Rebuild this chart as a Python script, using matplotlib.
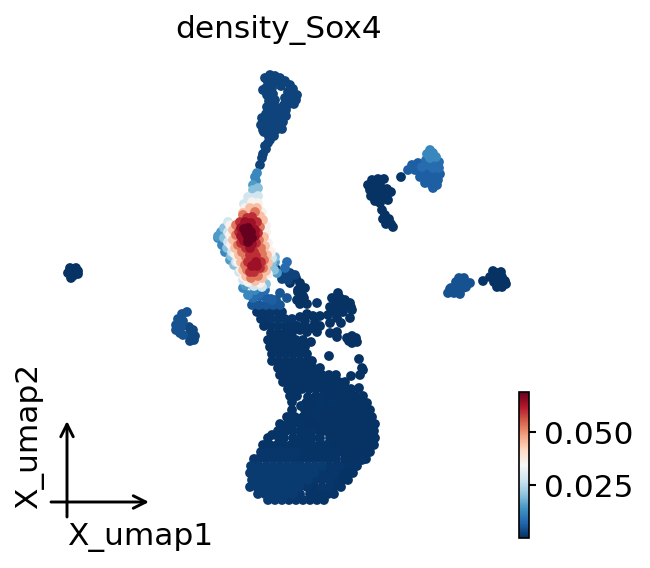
import matplotlib
matplotlib.use('Agg')
import matplotlib.pyplot as plt
import numpy as np

body_001 = [(34.3,48.0),(34.8,48.0),(34.2,47.3),(34.9,47.3),(35.3,47.3),(34.3,46.6),(35.0,46.6),(35.7,46.6),
    (34.5,45.9),(35.2,45.9),(35.9,45.9),(36.6,45.9),(34.2,45.2),(34.9,45.2),(35.6,45.2),(36.3,45.2),(37.0,45.2),
    (33.3,44.5),(34.0,44.5),(34.7,44.5),(35.4,44.5),(36.1,44.5),(36.8,44.5),(37.4,44.5),
    (33.0,43.8),(33.7,43.8),(34.4,43.8),(35.1,43.8),(35.8,43.8),(36.5,43.8),(37.2,43.8),(37.5,43.8),
    (31.9,43.1),(32.6,43.1),(33.3,43.1),(34.0,43.1),(34.7,43.1),(35.4,43.1),(36.1,43.1),(36.8,43.1),(37.4,43.1),
    (30.7,42.4),(31.4,42.4),(32.1,42.4),(32.8,42.4),(33.5,42.4),(34.2,42.4),(34.9,42.4),(35.6,42.4),(36.3,42.4),(37.0,42.4),(37.5,42.4),
    (28.7,41.7),(29.5,41.7),(30.3,41.7),(31.0,41.7),(32.5,41.7),(33.2,41.7),(33.9,41.7),(34.6,41.7),(35.3,41.7),(36.0,41.7),(36.7,41.7),(37.2,41.7),
    (29.2,41.0),(30.5,41.0),(31.1,41.0),(32.2,41.0),(32.9,41.0),(33.6,41.0),(34.3,41.0),(35.0,41.0),(35.7,41.0),(36.4,41.0),(37.0,41.0),
    (29.2,40.2),(30.6,40.3),(31.2,40.3),(32.5,40.3),(34.0,40.3),(34.7,40.3),(35.4,40.3),(36.1,40.3),(36.7,40.3),
    (29.0,39.6),(29.7,39.6),(30.8,39.7),(31.6,39.6),(32.8,39.6),(33.5,39.6),(34.2,39.6),(34.9,39.6),(35.6,39.6),(36.3,39.6),
    (28.8,38.9),(29.5,38.9),(30.2,38.9),(30.9,38.9),(31.6,38.9),(32.3,38.9),(33.0,38.9),(33.7,38.9),(34.4,38.9),(35.1,38.9),(35.9,38.8),
    (28.3,38.2),(29.0,38.2),(29.7,38.2),(30.4,38.2),(31.1,38.2),(31.8,38.2),(32.5,38.2),(33.2,38.2),(33.9,38.2),(34.5,38.2),
    (28.0,37.5),(28.7,37.5),(29.4,37.5),(30.1,37.5),(30.8,37.5),(31.5,37.5),(32.2,37.5),(32.9,37.5),(33.6,37.5),(36.0,37.5),(35.1,37.6),
    (27.8,36.8),(28.5,36.8),(29.2,36.8),(29.9,36.8),(30.6,36.8),(31.3,36.8),(32.0,36.8),(36.2,36.8),(36.3,37.0),
    (27.2,36.1),(27.9,36.1),(28.6,36.1),(29.3,36.1),(30.0,36.1),(30.7,36.1),(31.2,36.1),(35.9,35.9),
    (27.2,35.4),(27.9,35.4),(28.6,35.4),(29.3,35.4),(30.0,35.4),(30.7,35.4),(32.9,35.6),
    (27.0,34.7),(27.7,34.7),(28.4,34.7),(29.1,34.7),(29.8,34.7),(30.5,34.7),(31.1,34.2),
    (26.8,34.0),(27.5,34.0),(28.2,34.0),(28.9,34.0),(29.6,34.0),(30.3,34.0),
    (27.1,33.3),(27.8,33.3),(28.5,33.3),(29.2,33.3),(30.0,33.0),(30.7,33.2),(31.7,33.2),
    (33.0,33.3),(33.7,33.2),(33.7,33.7),(34.7,33.8),(35.2,33.6),(35.6,33.8),(35.2,34.3),(35.7,34.2),(34.9,34.1),
    (30.0,31.7),(30.7,31.4),(31.3,31.6),(32.0,31.6),(29.7,32.6),(30.3,32.7),(31.1,32.8),(33.0,32.3),(34.1,32.3),(30.5,32.1),(31.5,32.2),(32.0,32.6),
    (33.8,29.3),(34.5,30.0),(35.2,31.0),(33.5,30.5),(32.8,31.5),(34.3,31.2),(35.0,31.8),(33.2,29.8),(34.0,30.3),(35.0,30.3),(33.7,31.8),
    (33.0,30.7),(34.0,29.8),(34.0,30.9),(33.4,31.2),(34.6,30.6),(35.1,30.7),
    (29.0,28.3),(29.6,27.8),(30.0,28.3),(30.5,28.8),(29.8,29.0),(30.3,29.6),(29.8,29.2),(30.4,29.8),(30.0,30.4),(30.7,30.4),(29.7,30.0),
    (37.2,18.0),(37.8,17.9),(38.4,17.9),(36.8,18.5),(37.4,18.5),(38.0,18.5),(37.0,19.0),(37.6,19.0),(38.2,19.0),(38.7,18.9),(39.1,19.2),
    (37.1,19.6),(37.7,19.6),(38.3,19.6),(38.8,20.0),(37.5,20.1),(38.0,20.3),
    (38.2,21.0),(38.5,21.5),(38.3,21.9),(38.9,21.9),(39.1,22.4),(38.6,22.4),(39.3,22.7),
    (49.3,27.1),(49.8,27.3),(49.0,27.7),(49.6,27.8),(50.2,27.7),(50.5,28.1),(49.9,28.3),(50.6,28.4),(49.7,28.7),(50.2,28.7),(49.4,28.2),(50.1,27.2),
    (7.0,26.8),(7.6,26.8),(7.8,27.1),(6.8,27.3),(7.4,27.3),(7.8,27.4),(7.1,27.8),(7.3,27.6)]

body_002 = [(30.0,45.9),(30.8,45.9),(31.5,45.9),(32.2,45.9),(32.9,45.9),(33.6,45.9),(30.3,45.2),(31.0,45.2),(31.7,45.2),(32.4,45.2),(33.1,45.2),(33.8,45.2),
    (29.1,44.5),(29.8,44.5),(30.5,44.5),(31.2,44.5),(31.9,44.5),(32.6,44.5),(28.4,43.8),(29.3,43.8),(30.0,43.8),(30.7,43.8),(31.2,43.8),(32.0,43.8),
    (27.2,43.5),(27.9,43.8),(28.6,43.1),(29.3,43.1),(30.0,43.1),(30.5,43.1),(31.2,43.1),(28.0,42.4),(28.8,42.4),(29.3,42.4),(30.0,42.4),(27.8,43.1),
    (26.3,44.5),(27.0,44.5),(27.7,44.5),(28.4,44.5),(26.8,43.8),(29.3,41.7),(31.8,41.7),(31.5,41.0),(31.9,40.3),(33.2,40.3),(30.1,40.6),(32.2,39.7),
    (31.0,49.4),(31.7,49.4),(32.4,49.4),(32.8,49.4),(33.4,49.4),(31.0,50.0),(31.7,50.0),(32.4,50.0),(33.4,48.7),(34.1,48.7),(33.6,48.0),(31.4,48.7),
    (35.0,46.6),(35.5,46.6),(36.2,46.0),(48.3,28.1),(40.1,17.7),(26.6,31.9),(26.4,32.6),(27.1,32.6),(27.8,32.6),(28.5,32.6),(28.9,32.6),(29.6,32.6)]

body_003 = [(25.8,45.9),(26.6,45.9),(27.3,45.9),(28.0,45.9),(28.7,45.9),(29.4,45.9),(26.1,45.2),(26.8,45.2),(27.5,45.2),(28.2,45.2),(28.9,45.2),(29.6,45.2),
    (25.4,45.9),(25.5,46.6),(33.0,48.0),(32.2,48.0),(32.9,48.7),(32.2,48.7),(30.3,50.0),(29.6,50.0),(28.9,50.0),(30.0,49.4),(30.7,48.7),
    (31.5,48.0),(32.1,47.3),(32.8,47.3),(33.5,47.3),(32.9,46.6),(33.6,46.6),(34.0,46.6),
    (26.1,31.9),(25.7,31.2),(26.4,31.2),(27.1,31.9),(27.8,31.9),(28.5,31.9),(29.2,31.9),(27.1,31.2),(27.8,31.2),(28.2,31.2),(31.7,30.3)]

body_lower = [(25.0,47.3),(25.8,47.3),(26.5,47.3),(27.2,47.3),(27.9,47.3),(28.6,47.3),(29.3,47.3),(30.0,47.3),(30.7,47.3),(31.4,47.3),
    (25.1,46.6),(25.9,46.6),(26.6,46.6),(27.3,46.6),(28.0,46.6),(28.7,46.6),(29.4,46.6),(30.1,46.6),(30.8,46.6),(31.5,46.6),(32.2,46.6),
    (25.0,48.7),(25.7,48.7),(26.4,48.7),(27.1,48.7),(27.8,48.7),(28.5,48.7),(29.2,48.7),(29.9,48.7),
    (25.2,48.0),(25.9,48.0),(26.6,48.0),(27.3,48.0),(28.0,48.0),(28.7,48.0),(29.4,48.0),(30.1,48.0),(30.8,48.0),
    (25.8,49.4),(26.5,49.4),(27.2,49.4),(27.9,49.4),(28.6,49.4),(29.3,49.4),(26.8,50.0),(27.5,50.0),(28.2,50.0)]

neck_005 = [(25.2,30.5),(25.9,30.5),(26.6,30.5),(27.3,30.5),(27.6,30.0),(28.0,29.3),(28.7,29.8),(28.0,30.5),(27.1,29.9)]

cluster_005 = [(44.8,29.3),(45.4,29.3),(46.0,29.4),(45.1,28.8),(45.7,28.7),(46.3,28.8),(45.6,28.2),(46.2,28.1),(46.7,28.3),(47.0,28.3),(45.9,27.8),(46.4,27.8),
    (45.2,29.0),(45.0,28.9),(46.6,28.7),(46.1,28.5),
    (18.7,31.2),(18.2,31.4),(17.8,31.9),(17.6,32.5),(17.6,33.0),(18.1,32.7),(18.3,33.5),(18.0,33.3),(18.3,32.1)]

cluster_003 = [(18.9,32.7),(19.3,33.0),(18.9,33.5),(19.5,33.6),(19.0,34.1),(19.4,34.0)]

arm_004 = [(26.5,7.8),(27.0,7.5),(27.5,7.6),(26.8,8.2),(27.4,8.2),(28.0,7.8),(28.5,8.1),(28.1,8.6),(29.0,8.5),(26.6,8.8),(27.2,8.8),(29.3,8.9),(28.8,9.2),(29.7,9.5),
    (26.7,9.5),(27.3,9.4),(29.1,9.8),(29.6,10.0),(28.5,9.8),(26.9,10.1),(27.5,10.0),(28.9,10.4),(29.4,10.4),(28.4,10.5),(27.2,10.6),(27.8,10.8),(26.7,10.7),
    (28.6,11.0),(28.1,11.2),(27.1,11.2),(27.6,11.4),(26.6,11.4),(28.6,11.6),(28.1,11.8),(27.0,11.8),(27.5,12.0),(26.5,12.1),(28.3,12.2),(27.2,12.5),(27.7,12.5),
    (26.6,12.7),(26.4,13.2),(27.0,13.1),(27.6,13.0),(26.9,13.7),(27.4,13.6),(26.8,14.3),(26.6,14.9),(26.3,15.4),(26.5,14.6),(26.2,15.8),(26.0,16.5),
    (26.3,9.0),(26.2,11.8),(26.1,12.5),(28.2,12.9),(26.3,13.0),(27.0,14.0),
    (27.6,26.9),(28.4,27.4),(29.0,27.3),(29.5,27.5),(28.2,27.9),(28.8,28.0)]

# upper right group, pale end first
group_012 = [(43.0,15.0),(42.7,15.4),(43.3,15.3),(43.0,15.8),(43.6,15.7),(25.7,17.3),(25.5,17.7),(25.6,18.1),(21.8,23.8),(22.2,24.5),(22.5,25.2),(24.3,28.8),(24.8,29.5),(25.5,29.0)]
group_008 = [(42.6,16.0),(43.4,16.2),(43.9,16.2),(42.8,16.5),(42.2,16.7),(43.3,16.8),(43.9,16.8),(28.5,26.8),(28.7,26.2),(25.3,29.8),(25.9,29.4),(26.5,29.0)]
group_006 = [(41.8,16.3),(41.2,16.5),(40.8,17.0),(41.5,17.0),(42.2,17.2),(42.8,17.2),(43.5,17.4),(44.0,17.4),(42.0,17.7),(42.6,17.8),(43.2,17.9),(43.8,18.0),
    (42.5,18.3),(43.1,18.4),(43.7,18.5),(43.3,18.8),(26.0,29.6),(26.6,29.8),(27.2,30.0)]

# the bright band across the middle
band_015 = [(25.3,18.5),(22.1,23.2),(21.8,23.6),(23.0,26.0),(24.5,28.5),(27.7,27.3),(27.5,26.2)]
band_020 = [(25.3,19.0),(25.8,18.8),(22.4,22.8),(22.4,23.8),(22.7,24.8),(23.1,25.6),(23.4,26.5),(25.2,28.5),(26.6,28.4),(27.2,26.2),(27.4,27.0),(27.5,25.7)]
band_028 = [(24.8,19.7),(25.8,19.6),(25.3,19.8),(24.4,20.4),(22.8,22.2),(22.8,23.2),(22.8,24.2),(23.2,25.2),(23.6,26.2),(23.9,27.2),(24.3,28.0),(25.4,28.6),(26.2,28.7),(27.2,25.8)]
band_036 = [(25.2,20.2),(25.8,20.3),(24.5,20.8),(26.2,21.2),(23.0,22.5),(26.6,22.6),(23.0,23.5),(26.6,23.2),(23.1,24.5),(26.8,24.3),(23.5,25.4),(27.1,25.2),
    (23.8,26.2),(24.1,27.0),(24.4,27.7),(24.8,28.2),(26.0,28.3),(26.8,27.4)]
band_045 = [(25.0,20.8),(25.7,20.8),(24.3,21.3),(26.0,21.6),(23.3,23.0),(26.3,22.0),(23.3,24.0),(26.4,23.7),(23.5,24.8),(26.5,24.6),(23.9,25.5),(26.7,25.5),
    (24.1,26.2),(26.8,26.3),(24.3,27.0),(26.6,27.1),(24.6,27.6),(26.2,27.8),(25.5,28.1)]
band_053 = [(24.3,21.5),(25.5,21.2),(23.6,22.5),(26.0,22.7),(23.6,23.5),(25.9,24.0),(23.8,24.5),(26.1,24.8),(24.2,25.2),(24.6,25.7),(25.8,25.0),(26.2,25.4),
    (24.5,26.5),(24.7,27.0),(26.4,26.0),(26.3,26.8),(25.8,27.6),(25.1,27.8)]
band_060 = [(24.7,21.8),(25.2,21.7),(24.0,22.2),(25.7,22.2),(23.9,23.2),(25.8,23.3),(24.1,24.3),(25.6,24.3),(24.6,24.8),(25.4,25.2),(25.0,25.5),(25.6,25.6),
    (25.4,27.2),(26.0,26.8),(25.0,27.2),(26.1,26.2),(24.8,26.2)]
band_064 = [(24.5,22.2),(25.1,22.3),(24.1,22.8),(25.5,23.0),(24.1,23.6),(25.5,23.6),(24.4,24.1),(25.2,24.4),(25.0,24.8),(25.6,26.2),(25.2,26.6),(25.7,26.6)]
band_069 = [(24.8,22.8),(24.6,23.3),(25.1,23.2),(24.8,23.7),(24.4,22.9),(25.2,23.8),(24.8,24.2)]

point_groups = [body_001, body_002, body_003, body_lower, arm_004, cluster_003, cluster_005, neck_005, group_006, group_008,
                group_012, band_015, band_020, band_028, band_036, band_045, band_053, band_060, band_064, band_069]
group_density = [0.0003, 0.0006, 0.0009, 0.0014, 0.0025, 0.003, 0.0045, 0.005, 0.006, 0.008,
                 0.012, 0.015, 0.020, 0.028, 0.036, 0.045, 0.053, 0.060, 0.064, 0.069]

cbar_ticks = [0.025, 0.05]
cbar_labels = ['0.025', '0.050']

umap1 = np.concatenate([[p[0] for p in g] for g in point_groups])
umap2 = np.concatenate([[p[1] for p in g] for g in point_groups])
density = np.concatenate([[d] * len(g) for g, d in zip(point_groups, group_density)])

fig = plt.figure(figsize=(650 / 150, 568 / 150), dpi=150)
ax = fig.add_axes([0, 0, 1, 1])
ax.set_xlim(0, 65)
ax.set_ylim(56.8, 0)
ax.set_axis_off()

# low values first so the red stays on top
sc = ax.scatter(umap1, umap2, c=density, s=22, cmap='RdBu_r', vmin=0.0, vmax=0.069, linewidths=0)

ax.text(27.9, 3.0, 'density_Sox4', fontsize=15, ha='center', va='center')

# small axis arrows in the corner
ax.annotate('', xy=(14.9, 50.2), xytext=(5.1, 50.2),
            arrowprops=dict(arrowstyle='->', lw=1.4, color='black', mutation_scale=15, shrinkA=0, shrinkB=0))
ax.annotate('', xy=(6.7, 42.1), xytext=(6.7, 51.7),
            arrowprops=dict(arrowstyle='->', lw=1.4, color='black', mutation_scale=15, shrinkA=0, shrinkB=0))
ax.text(14.0, 53.7, 'X_umap1', fontsize=15, ha='center', va='center')
ax.text(3.0, 43.6, 'X_umap2', fontsize=15, ha='center', va='center', rotation=90)

cax = fig.add_axes([519 / 650, 1 - 538 / 568, 10 / 650, 146 / 568])
cbar = fig.colorbar(sc, cax=cax)
cbar.set_ticks(cbar_ticks)
cbar.set_ticklabels(cbar_labels)
cbar.ax.tick_params(labelsize=15, length=3.5, width=1)

fig.savefig('out.png', dpi=150)
